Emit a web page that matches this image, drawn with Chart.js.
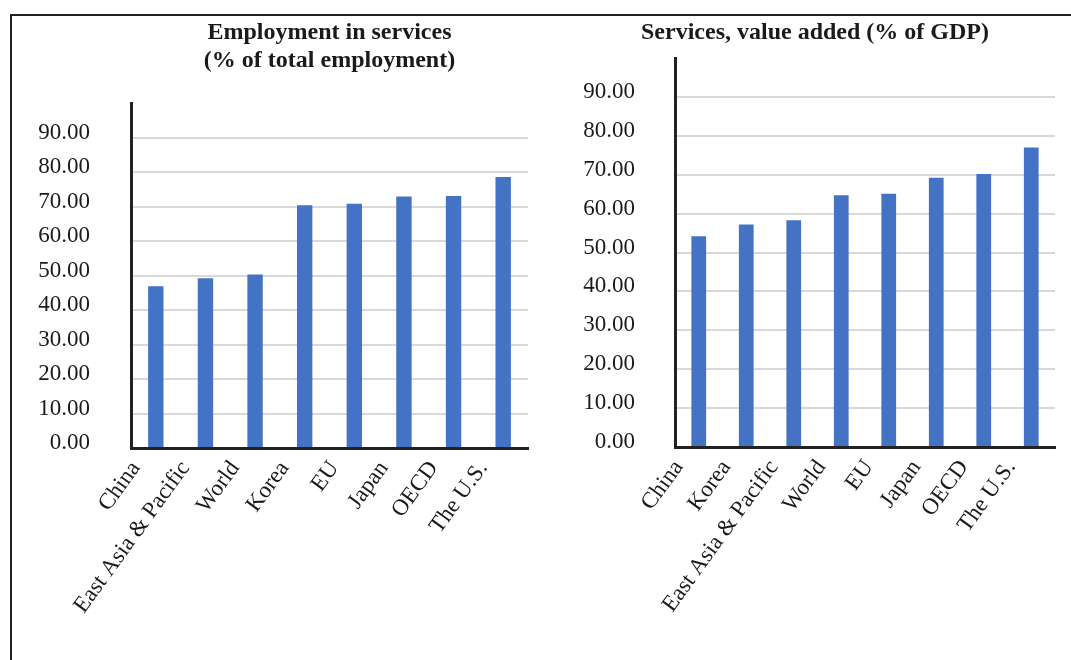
<!DOCTYPE html>
<html>
<head>
<meta charset="utf-8">
<script src="https://cdn.jsdelivr.net/npm/chart.js@4.4.0/dist/chart.umd.min.js"></script>
<style>
  html, body { margin: 0; padding: 0; background: #fff; }
  body { width: 1071px; height: 660px; position: relative; overflow: hidden; }
  #frame { position: absolute; left: 10px; top: 14px; width: 1100px; height: 700px;
           border-left: 2px solid #222; border-top: 2px solid #222; }
  #boxLeft { position: absolute; left: 0; top: 0; width: 545px; height: 660px; }
  #boxRight { position: absolute; left: 545px; top: 0; width: 540px; height: 660px; }
</style>
</head>
<body>
<div id="frame"></div>
<div id="boxLeft"><canvas id="chartEmp"></canvas></div>
<div id="boxRight"><canvas id="chartVA"></canvas></div>
<script>
// Employment in services (% of total employment)
const empLabels = ['China', 'East Asia & Pacific', 'World', 'Korea', 'EU', 'Japan', 'OECD', 'The U.S.'];
const empValues = [46.9, 49.2, 50.3, 70.4, 70.8, 72.9, 73.1, 78.6];

// Services, value added (% of GDP)
const vaLabels = ['China', 'Korea', 'East Asia & Pacific', 'World', 'EU', 'Japan', 'OECD', 'The U.S.'];
const vaValues = [54.2, 57.2, 58.3, 64.7, 65.1, 69.2, 70.2, 77.0];

// y axis ticks (0.00 ... 90.00), axis runs to 100 without a label
const yMax = 100;
const yStep = 10;

const serif = "'Liberation Serif', 'Times New Roman', serif";
const textColor = '#1a1a1a';
const barColor = '#4472C4';

function makeChart(id, labels, values, opts) {
    const ctx = document.getElementById(id).getContext('2d');
    return new Chart(ctx, {
        type: 'bar',
        data: {
            labels: labels,
            datasets: [{
                data: values,
                backgroundColor: barColor,
                barPercentage: 0.31,
                categoryPercentage: 1,
            }],
        },
        options: {
            responsive: true,
            maintainAspectRatio: false,
            animation: false,
            layout: { padding: { left: opts.padLeft, right: opts.padRight, top: 0, bottom: 0 } },
            plugins: {
                legend: { display: false },
                tooltip: { enabled: false },
                title: {
                    display: true,
                    text: opts.title,
                    fullSize: opts.titleFull, // false = centred over the plot area
                    color: textColor,
                    font: { family: serif, size: 24, weight: 'bold', lineHeight: 1.17 },
                    padding: { top: 19, bottom: opts.titleGap },
                },
            },
            scales: {
                x: {
                    grid: { display: false, drawTicks: false },
                    border: { display: true, color: '#222', width: 3 },
                    ticks: {
                        color: textColor,
                        font: { family: serif, size: 23 },
                        maxRotation: 54,
                        minRotation: 54,
                        autoSkip: false,
                        padding: 8,
                        labelOffset: -20,
                    },
                    afterFit: function(scale) { scale.height = opts.xHeight; },
                },
                y: {
                    min: 0,
                    max: yMax,
                    grid: {
                        drawTicks: false,
                        lineWidth: 2,
                        color: function(c) {
                            return (c.tick && c.tick.value === yMax) ? 'rgba(0,0,0,0)' : '#d9d9d9';
                        },
                    },
                    border: { display: true, color: '#222', width: 3 },
                    ticks: {
                        stepSize: yStep,
                        color: textColor,
                        font: { family: serif, size: 23 },
                        padding: opts.tickPad,
                        labelOffset: -5,
                        callback: function(value) {
                            return value === yMax ? '' : value.toFixed(2);
                        },
                    },
                    afterFit: function(scale) { scale.width = opts.yWidth; },
                },
            },
        },
    });
}

makeChart('chartEmp', empLabels, empValues, {
    title: ['Employment in services', '(% of total employment)'],
    titleFull: false,
    titleGap: 28,
    padLeft: 0,
    padRight: 17,
    xHeight: 212,
    yWidth: 131,
    tickPad: 41,
});

makeChart('chartVA', vaLabels, vaValues, {
    title: 'Services, value added (% of GDP)',
    titleFull: true,
    titleGap: 11,
    padLeft: 30,
    padRight: 30,
    xHeight: 213,
    yWidth: 100,
    tickPad: 40,
});
</script>
</body>
</html>
